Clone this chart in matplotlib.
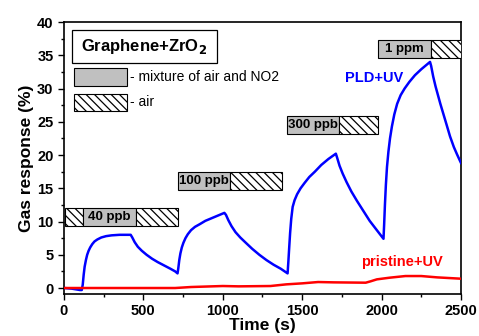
import matplotlib
matplotlib.use("Agg")
import matplotlib.pyplot as plt
from matplotlib.patches import Rectangle
from matplotlib.ticker import MultipleLocator

plt.rcParams['font.family'] = ['Liberation Sans', 'DejaVu Sans']
plt.rcParams['hatch.linewidth'] = 0.9

# PLD+UV response
pld_t = [0, 50, 100, 112,
         118, 124, 130, 138, 146, 155, 165, 178, 192, 210, 235, 265, 300, 350, 420,
         430, 445, 465, 490, 520, 555, 590, 630, 670, 700, 715,
         720, 726, 733, 742, 752, 765, 780, 800, 825, 855, 890, 930, 970, 1010,
         1020, 1035, 1055, 1080, 1110, 1145, 1185, 1230, 1275, 1320, 1365, 1408,
         1413, 1418, 1424, 1431, 1440, 1452, 1468, 1490, 1515, 1545, 1580, 1620, 1665, 1712,
         1720, 1735, 1755, 1780, 1810, 1845, 1885, 1925, 1970, 2012,
         2016, 2021, 2027, 2034, 2043, 2053, 2065, 2080, 2098, 2120, 2145, 2175, 2210,
         2250, 2280, 2305,
         2312, 2325, 2340, 2355, 2370, 2390, 2410, 2431, 2455, 2475, 2500]
pld_y = [0.0, -0.1, -0.3, -0.3,
         0.5, 2.0, 3.2, 4.2, 5.0, 5.6, 6.1, 6.6, 7.0, 7.3, 7.6, 7.8, 7.92, 8.0, 8.0,
         7.6, 6.9, 6.2, 5.6, 5.0, 4.4, 3.9, 3.4, 2.9, 2.5, 2.2,
         3.0, 4.2, 5.2, 6.1, 6.8, 7.5, 8.1, 8.7, 9.2, 9.6, 10.1, 10.5, 10.9, 11.3,
         11.0, 10.2, 9.3, 8.4, 7.6, 6.8, 5.9, 5.0, 4.2, 3.5, 2.9, 2.2,
         4.0, 6.0, 8.3, 10.4, 12.2, 13.2, 14.1, 15.0, 15.8, 16.7, 17.5, 18.5, 19.4, 20.2,
         19.6, 18.4, 17.2, 15.9, 14.5, 13.1, 11.6, 10.1, 8.7, 7.4,
         9.5, 12.5, 15.5, 18.2, 20.5, 22.5, 24.3, 26.1, 27.7, 29.0, 30.0, 31.0, 32.0,
         32.9, 33.5, 34.0,
         33.4, 31.8, 30.3, 29.0, 27.7, 26.1, 24.5, 22.8, 21.2, 20.1, 18.8]

# pristine+UV response
pri_t = [0, 700, 800, 1000, 1100, 1300, 1400, 1500, 1600, 1700, 1900, 1930, 1970,
         2050, 2150, 2250, 2350, 2500]
pri_y = [0.0, 0.0, 0.15, 0.3, 0.25, 0.3, 0.55, 0.7, 0.9, 0.85, 0.8, 1.0, 1.3,
         1.55, 1.8, 1.8, 1.6, 1.4]

conc_labels = ["40 ppb", "100 ppb", "300 ppb", "1 ppm"]

fig = plt.figure(figsize=(4.79, 3.36), dpi=100)
ax = fig.add_axes([0.1336, 0.125, 0.8288, 0.8095])

ax.plot(pld_t, pld_y, color='#0000ff', lw=1.8, zorder=3)
ax.plot(pri_t, pri_y, color='#ff0000', lw=1.8, zorder=3)

ax.set_xlim(0, 2500)
ax.set_ylim(-0.9, 40)
ax.xaxis.set_major_locator(MultipleLocator(500))
ax.xaxis.set_minor_locator(MultipleLocator(250))
ax.yaxis.set_major_locator(MultipleLocator(5))
ax.yaxis.set_minor_locator(MultipleLocator(2.5))
ax.tick_params(which='major', direction='out', length=4, width=1.0,
               labelsize=10.5, top=False, right=False)
ax.tick_params(which='minor', direction='out', length=2.5, width=1.0,
               top=False, right=False)
for lab in ax.get_xticklabels() + ax.get_yticklabels():
    lab.set_fontweight('bold')
for s in ax.spines.values():
    s.set_linewidth(1.2)

ax.set_xlabel('Time (s)', fontsize=12.5, fontweight='bold', labelpad=0)
ax.set_ylabel('Gas response (%)', fontsize=12.5, fontweight='bold', labelpad=2)

gray = '#c0c0c0'
HATCH = '\\\\\\\\'

def gasbox(x0, x1, x2, y0, y1, label, pre=None):
    if pre is not None:
        ax.add_patch(Rectangle((pre, y0), x0 - pre, y1 - y0, facecolor='white',
                               edgecolor='black', hatch=HATCH, lw=0.8, zorder=4))
    ax.add_patch(Rectangle((x0, y0), x1 - x0, y1 - y0, facecolor=gray,
                           edgecolor='black', lw=0.8, zorder=4))
    ax.add_patch(Rectangle((x1, y0), x2 - x1, y1 - y0, facecolor='white',
                           edgecolor='black', hatch=HATCH, lw=0.8, zorder=4))
    ax.text((x0 + x1) / 2, (y0 + y1) / 2, label, ha='center', va='center',
            fontsize=9.5, fontweight='bold', zorder=5)

gasbox(118, 452, 720, 9.3, 12.0, conc_labels[0], pre=6)
gasbox(716, 1045, 1373, 14.7, 17.4, conc_labels[1])
gasbox(1402, 1734, 1980, 23.2, 25.8, conc_labels[2])
gasbox(1980, 2310, 2530, 34.6, 37.3, conc_labels[3])

# legend-like box
ax.add_patch(Rectangle((0.020, 0.848), 0.365, 0.123, transform=ax.transAxes,
                       facecolor='white', edgecolor='black', lw=0.9, zorder=4))
ax.text(0.2025, 0.909, 'Graphene+ZrO$_\\mathbf{2}$', transform=ax.transAxes,
        ha='center', va='center', fontsize=12, fontweight='bold', zorder=5)
ax.add_patch(Rectangle((0.025, 0.766), 0.133, 0.064, transform=ax.transAxes,
                       facecolor=gray, edgecolor='black', lw=0.8, zorder=4))
ax.add_patch(Rectangle((0.025, 0.674), 0.133, 0.061, transform=ax.transAxes,
                       facecolor='white', edgecolor='black', hatch=HATCH,
                       lw=0.8, zorder=4))
ax.text(0.166, 0.798, '- mixture of air and NO2', transform=ax.transAxes,
        ha='left', va='center', fontsize=10, zorder=5)
ax.text(0.166, 0.706, '- air', transform=ax.transAxes,
        ha='left', va='center', fontsize=10, zorder=5)

ax.text(0.708, 0.793, 'PLD+UV', transform=ax.transAxes, color='#0000ff',
        ha='left', va='center', fontsize=10.5, fontweight='bold', zorder=5)
ax.text(0.748, 0.119, 'pristine+UV', transform=ax.transAxes, color='#ff0000',
        ha='left', va='center', fontsize=10.5, fontweight='bold', zorder=5)

fig.savefig('out.png', dpi=100)
